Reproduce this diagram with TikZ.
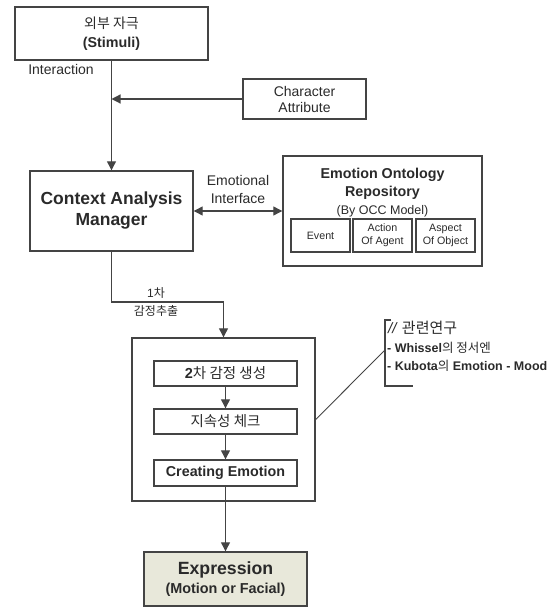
\documentclass[tikz,border=0pt]{standalone}
\usepackage{fontspec}
\setmainfont{Liberation Sans}
\newfontfamily\kr{Noto Sans CJK KR}
\usetikzlibrary{arrows.meta}
\definecolor{ln}{HTML}{444444}
\definecolor{tx}{HTML}{2A2A2A}
\definecolor{exfill}{HTML}{E8E8DA}
\newcommand{\K}[1]{{\kr #1}}
\tikzset{
  box/.style={draw=ln, line width=1.4pt, text=tx, align=center, inner sep=0pt, rectangle},
  conn/.style={draw=ln, line width=1.2pt},
  tip/.style={-{Triangle[length=9pt,width=9pt]}},
  lbl/.style={text=tx, align=center, inner sep=0pt}
}
\begin{document}
\begin{tikzpicture}[x=1pt,y=-1pt]
\useasboundingbox (0,0) rectangle (557,612);
% boxes
\node[box, minimum width=193pt, minimum height=53pt, font=\fontsize{14.3}{19}\selectfont] (stim) at (111.5,33.5) {\K{\fontsize{14}{19}\selectfont 외부 자극}\\\textbf{(Stimuli)}};
\node[box, minimum width=123pt, minimum height=40pt, font=\fontsize{14}{16}\selectfont] (char) at (304.5,99) {Character\\Attribute};
\node[box, minimum width=163pt, minimum height=80pt, font=\bfseries\fontsize{17.5}{21}\selectfont] (cam) at (111.5,211) {Context Analysis\\Manager};
\node[box, minimum width=199pt, minimum height=110pt] (ero) at (382.5,211) {};
\node[lbl, font=\bfseries\fontsize{14.3}{18}\selectfont] (erot) at (382.5,184) {Emotion Ontology\\Repository};
\node[lbl, font=\fontsize{12.5}{14}\selectfont] (occ) at (382.5,211) {(By OCC Model)};
\node[box, line width=1.2pt, minimum width=59pt, minimum height=33pt, font=\fontsize{10.7}{13}\selectfont] (ev) at (320.5,235.5) {Event};
\node[box, line width=1.2pt, minimum width=59pt, minimum height=33pt, font=\fontsize{10.7}{13}\selectfont] (act) at (382.5,235.5) {Action\\Of Agent};
\node[box, line width=1.2pt, minimum width=59pt, minimum height=33pt, font=\fontsize{10.7}{13}\selectfont] (asp) at (445.5,235.5) {Aspect\\Of Object};
\node[box, minimum width=183pt, minimum height=163pt] (big) at (223.5,419.5) {};
\node[box, minimum width=143pt, minimum height=25pt, font=\bfseries\fontsize{14.5}{16}\selectfont] (b1) at (225.5,373.5) {2\K{\mdseries\fontsize{14.5}{16}\selectfont 차 감정 생성}};
\node[box, minimum width=143pt, minimum height=25pt, font=\fontsize{14.5}{16}\selectfont] (b2) at (225.5,421.5) {\K{지속성 체크}};
\node[box, minimum width=143pt, minimum height=26pt, font=\bfseries\fontsize{14.3}{16}\selectfont] (b3) at (225.5,473) {Creating Emotion};
\node[box, fill=exfill, minimum width=163pt, minimum height=54pt, font=\bfseries\fontsize{14.4}{19}\selectfont] (expr) at (225.5,579) {{\fontsize{17.7}{19}\selectfont Expression}\\(Motion or Facial)};
% labels
\node[lbl, font=\fontsize{14}{16}\selectfont] (inter) at (61,69) {Interaction};
\node[lbl, font=\fontsize{14}{18}\selectfont] (emoi) at (238,189.5) {Emotional\\Interface};
\node[lbl, font=\fontsize{12}{18}\selectfont] (first) at (156,302) {1\K{차}\\\K{감정추출}};
% connectors
\coordinate (jn) at (111.5,99);
\draw[conn, tip] (stim.south) -- (cam.north);
\draw[conn, tip] (char.west) -- (jn);
\draw[conn, {Triangle[length=9pt,width=9pt]}-{Triangle[length=9pt,width=9pt]}] (cam.east) -- (ero.west);
\coordinate (c1) at (111.5,302);
\coordinate (c2) at (223.5,302);
\draw[conn, tip] (cam.south) -- (c1) -- (c2) -- (big.north);
\draw[conn, tip] (b1.south) -- (b2.north);
\draw[conn, tip] (b2.south) -- (b3.north);
\draw[conn, tip] (b3.south) -- (expr.north);
% callout
\coordinate (bk) at (385,350);
\coordinate (bt) at (391,320);
\coordinate (btl) at (385,320);
\coordinate (bbl) at (385,386);
\coordinate (bb) at (413,386);
\draw[draw=ln, line width=0.9pt] (big.east) -- (bk);
\draw[draw=ln, line width=1.2pt] (bt) -- (btl) -- (bbl) -- (bb);
\node[lbl, anchor=west, font=\fontsize{15}{17}\selectfont] (rel) at (388,328) {\textit{//} \K{관련연구}};
\node[lbl, anchor=west, font=\bfseries\fontsize{12.5}{14}\selectfont] (wh) at (387,348) {- Whissel\K{\mdseries 의 정서엔}};
\node[lbl, anchor=west, font=\bfseries\fontsize{12.5}{14}\selectfont] (ku) at (387,366) {- Kubota\K{\mdseries 의} Emotion - Mood};
\end{tikzpicture}
\end{document}
